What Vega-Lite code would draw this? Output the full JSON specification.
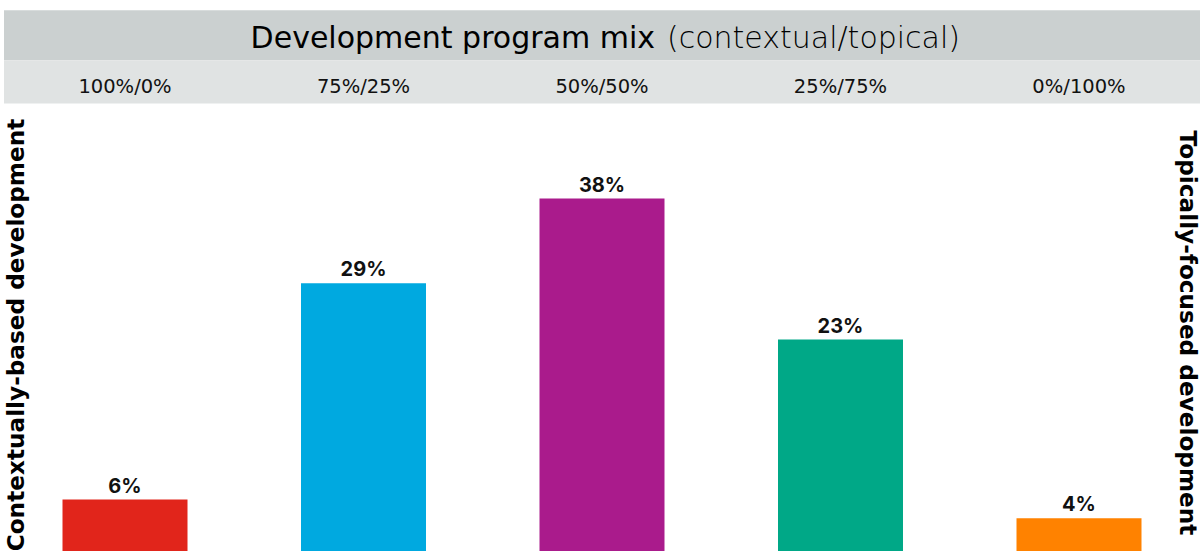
{
  "$schema": "https://vega.github.io/schema/vega-lite/v6.json",
  "width": 1196,
  "height": 556,
  "autosize": "none",
  "padding": {"left": 4, "top": 0, "right": 0, "bottom": 0},
  "background": "white",
  "config": {"view": {"stroke": null}},
  "data": {"values": [
    {"mix": "100%/0%", "share": 6, "label": "6%"},
    {"mix": "75%/25%", "share": 29, "label": "29%"},
    {"mix": "50%/50%", "share": 38, "label": "38%"},
    {"mix": "25%/75%", "share": 23, "label": "23%"},
    {"mix": "0%/100%", "share": 4, "label": "4%"}
  ]},
  "encoding": {
    "x": {"field": "mix", "type": "nominal", "sort": null,
      "scale": {"domain": ["100%/0%", "75%/25%", "50%/50%", "25%/75%", "0%/100%"], "paddingInner": 0.4759, "paddingOuter": 0.2453}, "axis": null}
  },
  "layer": [
    {
      "data": {"values": [{"band": "title"}]},
      "mark": {"type": "rect", "color": "#CBD0D0"},
      "encoding": {
        "x": null,
        "y": {"datum": 58.0, "type": "quantitative", "scale": {"domain": [0, 59.1], "nice": false}, "axis": null},
        "y2": {"datum": 52.7}
      }
    },
    {
      "data": {"values": [{"band": "sub"}]},
      "mark": {"type": "rect", "color": "#E0E3E3"},
      "encoding": {
        "x": null,
        "y": {"datum": 52.7, "type": "quantitative", "axis": null},
        "y2": {"datum": 48.1}
      }
    },
    {
      "data": {"values": [{"t": "Development program mix", "at": "50%/50%"}]},
      "mark": {"type": "text", "align": "right", "baseline": "middle", "dx": 53, "font": "DejaVu Sans", "fontSize": 30, "fontWeight": 400, "color": "#000000"},
      "encoding": {
        "x": {"field": "at", "type": "nominal"},
        "y": {"datum": 55.0, "type": "quantitative", "axis": null},
        "text": {"field": "t"}
      }
    },
    {
      "data": {"values": [{"t": "(contextual/topical)", "at": "50%/50%"}]},
      "mark": {"type": "text", "align": "left", "baseline": "middle", "dx": 65, "font": "DejaVu Sans", "fontSize": 30, "fontWeight": 300, "color": "#000000"},
      "encoding": {
        "x": {"field": "at", "type": "nominal"},
        "y": {"datum": 55.0, "type": "quantitative", "axis": null},
        "text": {"field": "t"}
      }
    },
    {
      "mark": {"type": "text", "baseline": "middle", "font": "DejaVu Sans", "fontSize": 19.5, "fontWeight": 500, "color": "#111111"},
      "encoding": {
        "y": {"datum": 49.9, "type": "quantitative", "axis": null},
        "text": {"field": "mix"}
      }
    },
    {
      "mark": {"type": "bar"},
      "encoding": {
        "y": {
          "field": "share", "type": "quantitative",
          "axis": {"orient": "left", "title": "Contextually-based development", "labels": false, "ticks": false, "domain": false, "grid": false,
            "titleFont": "DejaVu Sans", "titleFontSize": 23.2, "titleFontWeight": "bold", "titleColor": "#000000",
            "titleAngle": 270, "titleBaseline": "middle", "titleAlign": "center", "titleX": 12, "titleY": 334.5}
        },
        "color": {"field": "mix", "type": "nominal", "sort": null, "legend": null,
          "scale": {"domain": ["100%/0%", "75%/25%", "50%/50%", "25%/75%", "0%/100%"], "range": ["#E1251B", "#00A9E0", "#AA1B8C", "#00A887", "#FF8200"]}}
      }
    },
    {
      "mark": {"type": "text", "baseline": "alphabetic", "dy": -7, "font": "Inter", "fontSize": 20, "fontWeight": 700, "color": "#111111"},
      "encoding": {
        "y": {
          "field": "share", "type": "quantitative",
          "axis": {"orient": "right", "title": "Topically-focused development", "labels": false, "ticks": false, "domain": false, "grid": false,
            "titleFont": "DejaVu Sans", "titleFontSize": 23.2, "titleFontWeight": "bold", "titleColor": "#000000",
            "titleAngle": 90, "titleBaseline": "middle", "titleAlign": "center", "titleX": -14, "titleY": 332.5}
        },
        "text": {"field": "label"}
      }
    }
  ],
  "resolve": {"axis": {"y": "independent"}}
}
